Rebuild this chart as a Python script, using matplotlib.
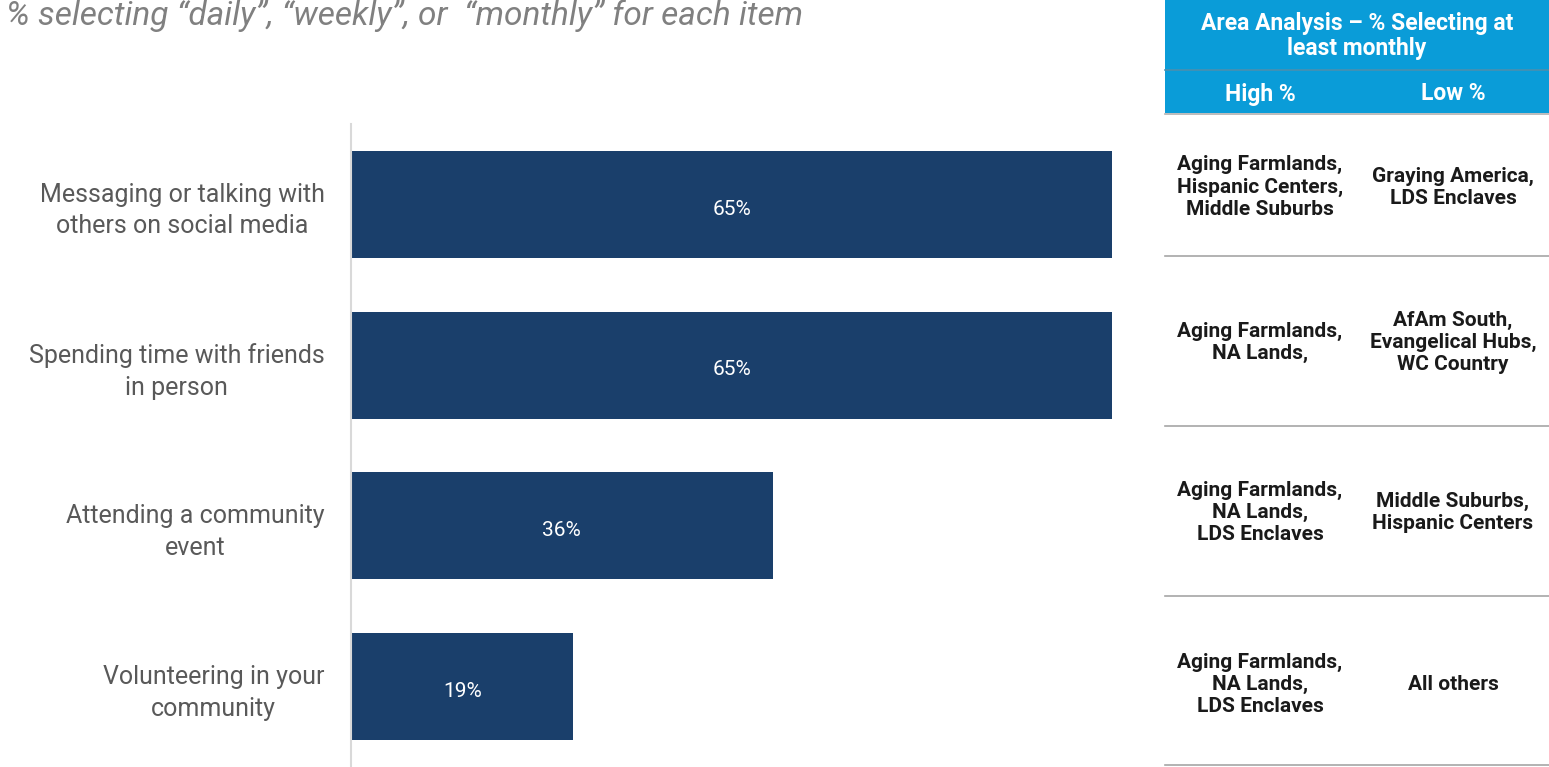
import matplotlib.pyplot as plt
from matplotlib.patches import Rectangle
from matplotlib.lines import Line2D

categories = ["Messaging or talking with\nothers on social media",
              "Spending time with friends\nin person",
              "Attending a community\nevent",
              "Volunteering in your\ncommunity"]
values = [65, 65, 36, 19]
high_areas = ["Aging Farmlands,\nHispanic Centers,\nMiddle Suburbs",
              "Aging Farmlands,\nNA Lands,",
              "Aging Farmlands,\nNA Lands,\nLDS Enclaves",
              "Aging Farmlands,\nNA Lands,\nLDS Enclaves"]
low_areas = ["Graying America,\nLDS Enclaves",
             "AfAm South,\nEvangelical Hubs,\nWC Country",
             "Middle Suburbs,\nHispanic Centers",
             "All others"]

plt.rcParams['font.family'] = ['Roboto', 'DejaVu Sans']
W, H = 1549, 767
fig = plt.figure(figsize=(W / 100, H / 100), dpi=100)

def fx(px):
    return px / W

def fy(py):
    return 1 - py / H

# bar axes: left edge at x=351, top y=124, bottom y=767
ax = fig.add_axes([fx(351), 0, fx(1160) - fx(351), fy(124)])
ypos = list(range(len(values)))
ax.barh(ypos, values, height=0.665, color="#1a3f6b")
ax.set_xlim(0, (1160 - 351) / 11.71)
ax.set_ylim(3.5, -0.5)
for y, v in zip(ypos, values):
    ax.text(v / 2, y + 0.03, f"{v}%", ha="center", va="center", color="white", fontsize=15)
ax.set_xticks([])
ax.set_yticks(ypos)
ax.set_yticklabels(categories, fontsize=18, color="#595959", linespacing=1.4,
                   ha="right", multialignment="center")
ax.tick_params(axis="y", length=0, pad=19)
for s in ["top", "right", "bottom"]:
    ax.spines[s].set_visible(False)
ax.spines["left"].set_color("#d9d9d9")
ax.spines["left"].set_linewidth(1.5)

fig.text(fx(6), fy(16), "% selecting \u201cdaily\u201d, \u201cweekly\u201d, or  \u201cmonthly\u201d for each item",
         fontsize=24, style="italic", color="#808080", va="center", ha="left")

# table header
blue = "#0a9cd8"
fig.add_artist(Rectangle((fx(1165), fy(113)), fx(1549) - fx(1165), fy(0) - fy(113),
                         transform=fig.transFigure, color=blue, lw=0))
fig.add_artist(Line2D([fx(1165), fx(1549)], [fy(70), fy(70)], color="#4a8fae", lw=1.2))
fig.add_artist(Line2D([fx(1165), fx(1549)], [fy(114), fy(114)], color="#b0b0b0", lw=1.2))
fig.text(fx(1357), fy(36), "Area Analysis \u2013 % Selecting at\nleast monthly", ha="center", va="center",
         color="white", fontsize=16.5, fontweight="bold", linespacing=1.15)
fig.text(fx(1260), fy(94), "High %", ha="center", va="center", color="white", fontsize=16.5, fontweight="bold")
fig.text(fx(1453), fy(94), "Low %", ha="center", va="center", color="white", fontsize=16.5, fontweight="bold")

row_lines = [256, 426, 596, 765]
row_centers = [187, 342, 512, 684]
for yl in row_lines:
    fig.add_artist(Line2D([fx(1165), fx(1549)], [fy(yl), fy(yl)], color="#a6a6a6", lw=1.2))
for yc, hi, lo in zip(row_centers, high_areas, low_areas):
    fig.text(fx(1260), fy(yc), hi, ha="center", va="center", fontsize=15, fontweight="bold",
             color="#1a1a1a", linespacing=1.2)
    fig.text(fx(1453), fy(yc), lo, ha="center", va="center", fontsize=15, fontweight="bold",
             color="#1a1a1a", linespacing=1.2)

fig.savefig("out.png", dpi=100)
